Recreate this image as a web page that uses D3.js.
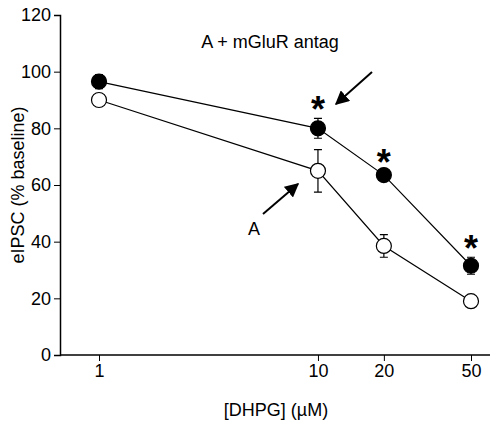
<!DOCTYPE html>
<html><head><meta charset="utf-8">
<script src="https://cdn.jsdelivr.net/npm/d3@7"></script>
<style>body{margin:0;background:#fff}text{font-family:"Liberation Sans",Arial,sans-serif}</style>
</head><body><svg id="c" width="498" height="435"></svg>
<script>
const doses = [1, 10, 20, 50];
const antag = [96.5, 80, 63.5, 31.5];
const antagErr = [2.5, 3.5, 1.5, 3];
const control = [90, 65, 38.5, 19];
const controlErr = [1.5, 7.5, 4, 2];
const yTicks = [0, 20, 40, 60, 80, 100, 120];
const sigDoses = [10, 20, 50];

const svg = d3.select('#c');
const x = d3.scaleLog().domain([1, 50]).range([99, 471]);
const y = d3.scaleLinear().domain([0, 120]).range([355, 15]);

// axes
svg.append('g').attr('transform', 'translate(60,0)')
    .call(d3.axisLeft(y).tickValues(yTicks).tickSize(6))
    .call(g => g.select('.domain').attr('stroke-width', 1.5));
svg.append('g').attr('transform', 'translate(0,355)')
    .call(d3.axisBottom(x).tickValues(doses).tickFormat(d3.format('d')).tickSize(6))
    .call(g => g.select('.domain').attr('d', 'M60,0H490').attr('stroke-width', 1.5));
svg.selectAll('.tick text').attr('font-size', 18).attr('fill', '#000');

function series(vals, errs, fill) {
    const pts = doses.map((d, i) => ({ d, v: vals[i], e: errs[i] }));
    svg.append('path').datum(pts)
        .attr('d', d3.line().x(p => x(p.d)).y(p => y(p.v)))
        .attr('fill', 'none').attr('stroke', '#000').attr('stroke-width', 1.2);
    svg.append('g').selectAll('path').data(pts).join('path')
        .attr('d', p => `M${x(p.d)},${y(p.v - p.e)}V${y(p.v + p.e)}M${x(p.d) - 4},${y(p.v - p.e)}h8M${x(p.d) - 4},${y(p.v + p.e)}h8`)
        .attr('stroke', '#000').attr('stroke-width', 1.2);
    svg.append('g').selectAll('circle').data(pts).join('circle')
        .attr('cx', p => x(p.d)).attr('cy', p => y(p.v)).attr('r', 7.5)
        .attr('fill', fill).attr('stroke', '#000').attr('stroke-width', 1.2);
}
series(control, controlErr, '#fff');
series(antag, antagErr, '#000');

// significance stars
svg.append('g').selectAll('text').data(sigDoses).join('text')
    .attr('x', d => x(d)).attr('y', d => y(antag[doses.indexOf(d)] + antagErr[doses.indexOf(d)]) + 4)
    .attr('text-anchor', 'middle').attr('font-size', 36).attr('font-weight', 'bold').text('*');

// labels and arrows
svg.append('defs').append('marker').attr('id', 'ah').attr('viewBox', '0 0 10 10')
    .attr('refX', 9).attr('refY', 5).attr('markerWidth', 7).attr('markerHeight', 7).attr('orient', 'auto')
    .append('path').attr('d', 'M0,0L10,5L0,10z');
svg.append('line').attr('x1', 372).attr('y1', 72).attr('x2', 336).attr('y2', 104)
    .attr('stroke', '#000').attr('stroke-width', 2).attr('marker-end', 'url(#ah)');
svg.append('line').attr('x1', 263).attr('y1', 214).attr('x2', 298).attr('y2', 184)
    .attr('stroke', '#000').attr('stroke-width', 2).attr('marker-end', 'url(#ah)');
svg.append('text').attr('x', 270).attr('y', 48).attr('text-anchor', 'middle').attr('font-size', 18).text('A + mGluR antag');
svg.append('text').attr('x', 254).attr('y', 235).attr('text-anchor', 'middle').attr('font-size', 18).text('A');
svg.append('text').attr('x', 276).attr('y', 416).attr('text-anchor', 'middle').attr('font-size', 18).text('[DHPG] (µM)');
svg.append('text').attr('transform', 'translate(24,185) rotate(-90)').attr('text-anchor', 'middle')
    .attr('font-size', 18).text('eIPSC (% baseline)');
</script></body></html>
